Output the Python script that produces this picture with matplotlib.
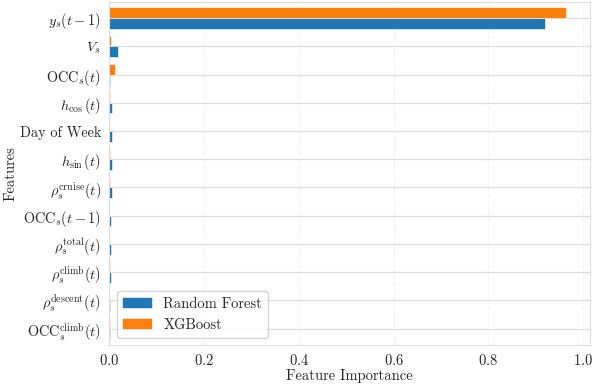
import numpy as np
import seaborn as sns
from matplotlib import pyplot as plt

# feature importances, listed top to bottom as drawn
features = [
    r"$y_s(t-1)$",
    r"$V_s$",
    r"$\mathrm{OCC}_s(t)$",
    r"$h_{\cos}(t)$",
    "Day of Week",
    r"$h_{\sin}(t)$",
    r"$\rho_s^{\mathrm{cruise}}(t)$",
    r"$\mathrm{OCC}_s(t-1)$",
    r"$\rho_s^{\mathrm{total}}(t)$",
    r"$\rho_s^{\mathrm{climb}}(t)$",
    r"$\rho_s^{\mathrm{descent}}(t)$",
    r"$\mathrm{OCC}_s^{\mathrm{climb}}(t)$",
]
rf_importance = [0.919, 0.018, 0.002, 0.006, 0.006, 0.005, 0.005, 0.004, 0.004, 0.003, 0.002, 0.0015]
xgb_importance = [0.963, 0.004, 0.011, 0.001, 0.0003, 0.0005, 0.001, 0.0002, 0.0002, 0.001, 0.0002, 0.0005]

sns.set_style("whitegrid")
plt.rcParams["font.family"] = ["cmr10", "DejaVu Serif"]
plt.rcParams["mathtext.fontset"] = "cm"
plt.rcParams["axes.unicode_minus"] = False
plt.rcParams["axes.formatter.use_mathtext"] = True

fig, ax = plt.subplots(figsize=(5.94, 3.87), dpi=100)

n = len(features)
pos = np.arange(n)[::-1]
h = 0.38
ax.barh(pos - h / 2, rf_importance, height=h, color="#1f77b4", label="Random Forest",
        edgecolor="white", linewidth=0.4)
ax.barh(pos + h / 2, xgb_importance, height=h, color="#ff7f0e", label="XGBoost",
        edgecolor="white", linewidth=0.4)

ax.set_yticks(pos)
ax.set_yticklabels(features, fontsize=10.3)
ax.set_ylim(-0.57, n - 0.43)
ax.set_xlim(0, 1.014)
ax.tick_params(axis="x", labelsize=10.5, pad=2.5)
ax.tick_params(axis="y", pad=2.5)

ax.grid(axis="y", color="#dddddd", linewidth=0.9)
ax.grid(axis="x", color="#f2f2f2", linestyle="--", linewidth=0.8)
for s in ax.spines.values():
    s.set_color("#dddddd")

ax.set_xlabel("Feature Importance", fontsize=10.5)
ax.set_ylabel("Features", fontsize=10.5)
ax.xaxis.set_label_coords(0.5, -0.071)
ax.yaxis.set_label_coords(-0.19, 0.5)
ax.legend(loc="lower left", fontsize=10.5, frameon=True)

fig.subplots_adjust(left=0.184, right=0.993, top=0.995, bottom=0.109)
plt.savefig("out.png")
